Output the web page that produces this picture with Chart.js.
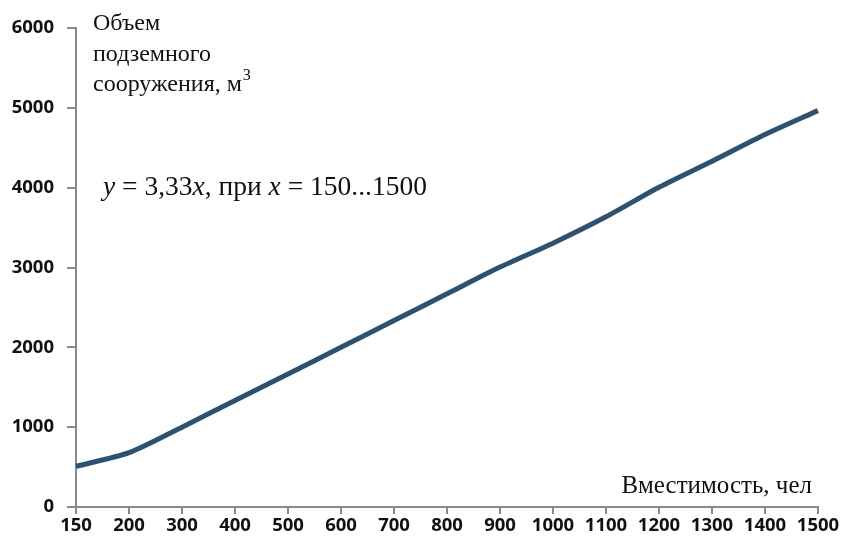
<!DOCTYPE html>
<html>
<head>
<meta charset="utf-8">
<script src="https://cdn.jsdelivr.net/npm/chart.js@4.4.1/dist/chart.umd.min.js"></script>
<style>
    html, body { margin: 0; padding: 0; background: #fff; }
    #wrap { width: 842px; height: 545px; }
</style>
</head>
<body>
<div id="wrap"><canvas id="grafico"></canvas></div>
<script>
// вместимость, чел
const vmestimost = ['150', '200', '300', '400', '500', '600', '700', '800', '900', '1000', '1100', '1200', '1300', '1400', '1500'];
// объем подземного сооружения, м3
const obem = [510, 680, 1000, 1335, 1665, 2000, 2335, 2670, 3005, 3305, 3635, 4005, 4330, 4665, 4965];
const yTicks = [0, 1000, 2000, 3000, 4000, 5000, 6000];

const tituloY = ['Объем', 'подземного', 'сооружения, м'];
const tituloX = 'Вместимость, чел';

// textos sobre el grafico
const textos = {
    id: 'textos',
    afterDraw(chart) {
        const ctx = chart.ctx;
        const area = chart.chartArea;
        ctx.save();
        ctx.fillStyle = '#111';
        ctx.textBaseline = 'alphabetic';
        ctx.font = '24px "Liberation Serif"';
        ctx.textAlign = 'left';
        let x0 = area.left + 17;
        ctx.fillText(tituloY[0], x0, 30);
        ctx.fillText(tituloY[1], x0, 61);
        ctx.fillText(tituloY[2], x0, 91);
        let w = ctx.measureText(tituloY[2]).width;
        ctx.font = '16px "Liberation Serif"';
        ctx.fillText('3', x0 + w + 1, 80);

        ctx.font = '25px "Liberation Serif"';
        ctx.textAlign = 'right';
        ctx.fillText(tituloX, area.right - 6, 493);

        // formula, letras en cursiva
        ctx.textAlign = 'left';
        let partes = [['y', true], [' = 3,33', false], ['x', true], [', при ', false], ['x', true], [' = 150...1500', false]];
        let px = 103;
        partes.forEach(p => {
            ctx.font = (p[1] ? 'italic ' : '') + '27.5px "Liberation Serif"';
            ctx.fillText(p[0], px, 195);
            px += ctx.measureText(p[0]).width;
        });
        ctx.restore();
    }
};

let CanvasG = document.getElementById('grafico').getContext('2d');
let datos = {
    labels: vmestimost,
    datasets: [{
        data: obem,
        borderColor: '#2e5170',
        borderWidth: 5,
        pointRadius: 0,
        tension: 0.25,
        fill: false
    }]
};
let opciones = {
    responsive: true,
    maintainAspectRatio: false,
    animation: false,
    layout: { padding: { top: 28, right: 24, left: 0, bottom: 0 } },
    plugins: {
        legend: { display: false },
        tooltip: { enabled: false }
    },
    scales: {
        x: {
            offset: false,
            grid: { display: true, drawOnChartArea: false, drawTicks: true, tickLength: 7, color: '#8a8a8a', lineWidth: 2 },
            border: { display: true, color: '#8a8a8a', width: 2 },
            ticks: {
                color: '#111',
                font: { family: '"Open Sans"', size: 18.5, weight: '700' },
                padding: 1,
                maxRotation: 0,
                autoSkip: false
            },
            afterFit(scale) { scale.height = 38; }
        },
        y: {
            min: 0,
            max: 6000,
            afterBuildTicks(scale) { scale.ticks = yTicks.map(v => ({ value: v })); },
            grid: { display: true, drawOnChartArea: false, drawTicks: true, tickLength: 9, color: '#8a8a8a', lineWidth: 2 },
            border: { display: true, color: '#8a8a8a', width: 2 },
            ticks: {
                color: '#111',
                font: { family: '"Open Sans"', size: 18.5, weight: '700' },
                padding: 13,
                callback: v => String(v)
            },
            afterFit(scale) { scale.width = 76; }
        }
    }
};
let G = new Chart(CanvasG, {
    type: 'line',
    data: datos,
    options: opciones,
    plugins: [textos]
});
</script>
</body>
</html>
